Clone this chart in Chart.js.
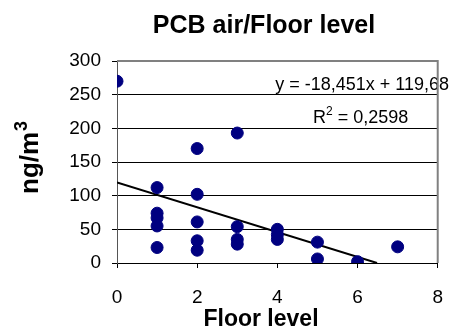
<!DOCTYPE html>
<html>
<head>
<meta charset="utf-8">
<script src="https://cdn.jsdelivr.net/npm/chart.js@4/dist/chart.umd.min.js"></script>
<style>
html,body{margin:0;padding:0;background:#fff;}
#wrap{width:461px;height:329px;}
</style>
</head>
<body>
<div id="wrap"><canvas id="c" width="461" height="329"></canvas></div>
<script>
const floors = [0,1,1,1,1,1,2,2,2,2,2,3,3,3,3,4,4,4,5,5,6,7];
const pcb    = [270,112,74,67,55,23,170,102,61,33,19,193,54,35,28,50,42,35,31,6,2,24];
const xTicks = [0,2,4,6,8];
const yTicks = [0,50,100,150,200,250,300];
const slope = -18.451;
const intercept = 119.68;
const titleText = 'PCB air/Floor level';
const xTitle = 'Floor level';
const yTitle = 'ng/m';
const yTitleSup = '3';
const eqText = 'y = -18,451x + 119,68';
const r2Text = '0,2598';

const points = floors.map((f,i)=>({x:f,y:pcb[i]}));
const xEnd = -intercept/slope;
const trend = [{x:0,y:intercept},{x:xEnd,y:0}];

const FONT = '"Liberation Sans", Arial, sans-serif';

const textPlugin = {
  id:'texts',
  afterDraw(chart){
    const ctx = chart.ctx;
    const ca = chart.chartArea;
    ctx.save();
    ctx.fillStyle = '#000';
    // title
    ctx.font = 'bold 25px ' + FONT;
    ctx.textAlign = 'center';
    ctx.textBaseline = 'alphabetic';
    ctx.fillText(titleText, 264, 33);
    // x title
    ctx.font = 'bold 23px ' + FONT;
    ctx.fillText(xTitle, 261, 326);
    // y title
    ctx.save();
    ctx.translate(38, 194);
    ctx.rotate(-Math.PI/2);
    ctx.textAlign = 'left';
    ctx.font = 'bold 26px ' + FONT;
    ctx.fillText(yTitle, 0, 0);
    const w = ctx.measureText(yTitle).width;
    ctx.font = 'bold 18px ' + FONT;
    ctx.fillText(yTitleSup, w + 1, -11);
    ctx.restore();
    // equation
    ctx.font = '18px ' + FONT;
    ctx.textAlign = 'right';
    ctx.fillText(eqText, 449, 90);
    // R2
    ctx.textAlign = 'left';
    let x = 313;
    ctx.fillText('R', x, 123);
    x += ctx.measureText('R').width;
    ctx.font = '12px ' + FONT;
    ctx.fillText('2', x, 115);
    x += ctx.measureText('2').width;
    ctx.font = '18px ' + FONT;
    ctx.fillText(' = ' + r2Text, x, 123);
    // plot border top/right
    ctx.strokeStyle = '#808080';
    ctx.lineWidth = 2;
    ctx.beginPath();
    ctx.moveTo(ca.left, ca.top);
    ctx.lineTo(ca.right, ca.top);
    ctx.lineTo(ca.right, ca.bottom);
    ctx.stroke();
    ctx.restore();
  }
};

new Chart(document.getElementById('c'), {
  type:'scatter',
  data:{
    datasets:[
      {
        type:'line',
        data:trend,
        borderColor:'#000',
        borderWidth:2,
        pointRadius:0,
        fill:false,
        order:2
      },
      {
        data:points,
        backgroundColor:'#000080',
        borderColor:'#000080',
        borderWidth:1,
        pointRadius:6,
        pointHoverRadius:6,
        order:1
      }
    ]
  },
  options:{
    responsive:false,
    animation:false,
    events:[],
    layout:{padding:{left:0,right:8,top:61,bottom:0}},
    plugins:{legend:{display:false},tooltip:{enabled:false},title:{display:false}},
    scales:{
      x:{
        type:'linear',
        min:0,max:8,
        afterBuildTicks(s){ s.ticks = xTicks.map(v=>({value:v})); },
        afterFit(s){ s.height = 329-263; },
        grid:{drawOnChartArea:false, drawTicks:true, tickLength:5, tickColor:'#000', color:'#000'},
        border:{display:true, color:'#000', width:1},
        ticks:{font:{family:FONT,size:19}, color:'#000', padding:18, maxRotation:0}
      },
      y:{
        min:0,max:300,
        afterBuildTicks(s){ s.ticks = yTicks.map(v=>({value:v})); },
        afterFit(s){ s.width = 117; },
        grid:{drawOnChartArea:true, drawTicks:true, tickLength:5, tickColor:'#000',
              color:(c)=> (c.tick && c.tick.value===300) ? '#808080' : '#000', lineWidth:1},
        border:{display:true, color:'#555', width:1},
        ticks:{font:{family:FONT,size:19}, color:'#000', padding:11}
      }
    }
  },
  plugins:[textPlugin]
});
</script>
</body>
</html>
